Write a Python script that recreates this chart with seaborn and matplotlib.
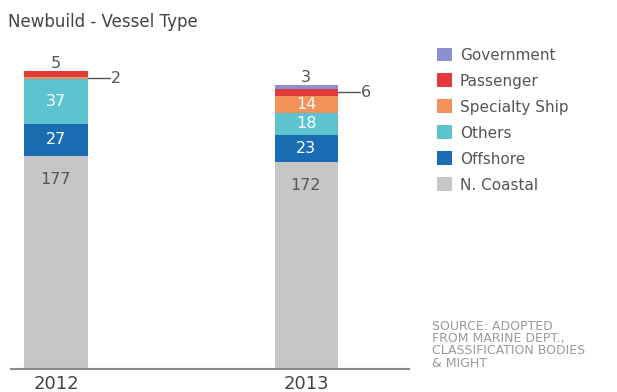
import matplotlib
matplotlib.use("Agg")
import matplotlib.pyplot as plt
import seaborn as sns
import numpy as np
from matplotlib.patches import Patch

# ---- data ----
years = ["2012", "2013"]
categories = ["N. Coastal", "Offshore", "Others", "Specialty Ship", "Passenger", "Government"]
n_coastal = [177, 172]
offshore = [27, 23]
others = [37, 18]
specialty = [2, 14]
passenger = [5, 6]
government = [0, 3]
colors = ["#c6c6c6", "#1b6db3", "#5cc3cf", "#f39258", "#e23b3b", "#8c8fd0"]
title = "Newbuild - Vessel Type"
source = "SOURCE: ADOPTED\nFROM MARINE DEPT.,\nCLASSIFICATION BODIES\n& MIGHT"

sns.set_style("white")
plt.rcParams["font.family"] = ["DejaVu Sans"]

W, H = 617, 392
fig = plt.figure(figsize=(W / 100, H / 100), dpi=100)
ax = fig.add_axes([11 / W, 23 / H, 398 / W, (369 - 60) / H])

series = np.array([n_coastal, offshore, others, specialty, passenger, government], dtype=float)
cum = np.cumsum(series, axis=0)
bottoms = cum - series

bw = 0.252
for k in reversed(range(len(categories))):
    sns.barplot(x=years, y=cum[k], color=colors[k], width=bw, saturation=1,
                linewidth=0, ax=ax)

ax.set_xlim(-0.18, 1.412)
ax.set_ylim(0, 257)

# labels
lab_dark = "#555555"
for i in range(len(years)):
    ax.annotate(f"{int(series[0][i])}", (i, cum[0][i]), xytext=(0, -17),
                textcoords="offset points", ha="center", va="center",
                fontsize=11.5, color=lab_dark)
    big = [k for k in range(1, len(categories)) if series[k][i] >= 10]
    small = [k for k in range(1, len(categories)) if 0 < series[k][i] < 10]
    for k in big:
        ax.text(i, bottoms[k][i] + series[k][i] / 2, f"{int(series[k][i])}",
                ha="center", va="center", fontsize=11.5, color="white")
    if small:
        top_k = small[-1]
        ax.annotate(f"{int(series[top_k][i])}", (i, cum[top_k][i]), xytext=(0, 0),
                    textcoords="offset points", ha="center", va="bottom",
                    fontsize=11.5, color=lab_dark)
        for k in small[:-1]:
            yc = bottoms[k][i] + series[k][i] / 2
            ax.plot([i + bw / 2, i + bw / 2 + 0.088], [yc, yc], color=lab_dark, lw=1)
            ax.text(i + bw / 2 + 0.092, yc, f"{int(series[k][i])}", ha="left",
                    va="center", fontsize=11.5, color=lab_dark)

for s in ["top", "right", "left"]:
    ax.spines[s].set_visible(False)
ax.spines["bottom"].set_color("#8a8a8a")
ax.spines["bottom"].set_linewidth(1.5)
ax.set_yticks([])
ax.set_xlabel("")
ax.set_ylabel("")
ax.tick_params(axis="x", length=0, pad=4, labelsize=13, labelcolor="#444444")

handles = [Patch(facecolor=colors[k], edgecolor="none") for k in reversed(range(len(categories)))]
labels = [categories[k] for k in reversed(range(len(categories)))]
leg = fig.legend(handles, labels, loc="upper left", bbox_to_anchor=(437 / W, 1 - 47.5 / H),
                 frameon=False, fontsize=11, handlelength=1.0, handleheight=1.0,
                 handletextpad=0.5, labelspacing=0.715, borderpad=0, borderaxespad=0)
for t in leg.get_texts():
    t.set_color("#555555")

fig.text(8 / W, 1 - 22 / H, title, fontsize=12, color="#444444", va="center", ha="left")
fig.text(432 / W, 1 - 320 / H, source, fontsize=9, color="#9a9a9a", va="top",
         ha="left", linespacing=0.92)

fig.savefig("out.png", dpi=100)
